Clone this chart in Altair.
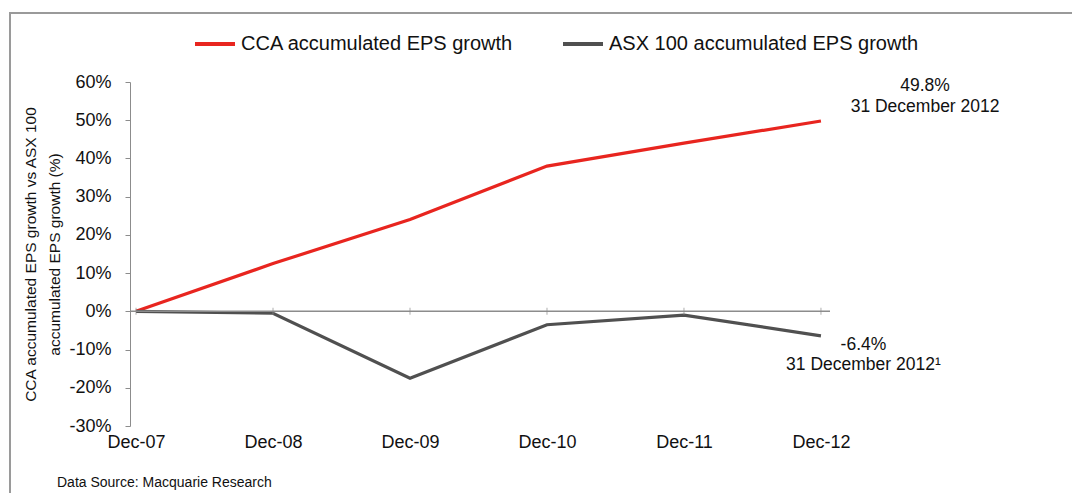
import altair as alt
import pandas as pd

periods = ["Dec-07", "Dec-08", "Dec-09", "Dec-10", "Dec-11", "Dec-12"]
cca = [0.0, 12.5, 24.0, 38.0, 44.0, 49.8]
asx = [0.0, -0.5, -17.5, -3.5, -1.0, -6.4]
series_names = ["CCA accumulated EPS growth", "ASX 100 accumulated EPS growth"]
series_colors = ["#e8251f", "#505050"]
y_ticks = [-30, -20, -10, 0, 10, 20, 30, 40, 50, 60]
source_text = "Data Source: Macquarie Research"

rows = []
for i, p in enumerate(periods):
    rows.append({"idx": i, "period": p, "series": series_names[0], "value": cca[i]})
    rows.append({"idx": i, "period": p, "series": series_names[1], "value": asx[i]})
df = pd.DataFrame(rows)

ann = pd.DataFrame({
    "x": [5.76, 5.76, 5.31, 5.31],
    "y": [58.9, 53.4, -8.8, -14.1],
    "text": ["49.8%", "31 December 2012", "-6.4%", "31 December 2012\u00b9"],
})

FONT = "Liberation Sans"
W, H = 700, 344
xscale = alt.Scale(domain=[-0.044, 5.066], nice=False, zero=False)
yscale = alt.Scale(domain=[-30, 60], nice=False)

xaxis = alt.Axis(
    values=list(range(len(periods))),
    labelExpr="['Dec-07','Dec-08','Dec-09','Dec-10','Dec-11','Dec-12'][datum.value]",
    domain=False, ticks=False, grid=False, labelFontSize=18, labelFont=FONT,
    labelColor="#111", labelPadding=7, labelOverlap=False, title=None,
)
yaxis = alt.Axis(
    values=y_ticks, labelExpr="datum.value + '%'", grid=False,
    domainColor="#8c8c8c", tickColor="#8c8c8c", tickSize=5, labelPadding=14,
    labelFontSize=18, labelFont=FONT, labelColor="#111", labelOverlap=False,
    titleFont=FONT, titleFontSize=15.5, titleFontWeight="normal", titleColor="#111",
    titlePadding=6, titleLineHeight=24,
    title=["CCA accumulated EPS growth vs ASX 100", "accumulated EPS growth (%)"],
)

frame = alt.Chart(pd.DataFrame({"a": [0]})).mark_rect(
    fill=None, stroke="#9a9a9a", strokeWidth=2, clip=False
).encode(
    x=alt.value(-120), x2=alt.value(1080), y=alt.value(-69), y2=alt.value(500)
)

lines = alt.Chart(df).mark_line(strokeWidth=3.2).encode(
    x=alt.X("idx:Q", scale=xscale, axis=xaxis),
    y=alt.Y("value:Q", scale=yscale, axis=yaxis),
    color=alt.Color(
        "series:N",
        scale=alt.Scale(domain=series_names, range=series_colors),
        legend=alt.Legend(
            title=None, orient="none", legendX=63, legendY=-60, direction="horizontal",
            symbolType="stroke", symbolSize=1600, symbolStrokeWidth=4,
            labelFontSize=20, labelFont=FONT, labelColor="#111", labelOffset=4,
            columnPadding=41, labelLimit=400,
        ),
    ),
    order="idx:Q",
)

zero = alt.Chart(pd.DataFrame({"v": [0]})).mark_rule(color="#8c8c8c", strokeWidth=1.5).encode(
    y=alt.Y("v:Q", scale=yscale, axis=yaxis), x=alt.value(0), x2=alt.value(W)
)

ticks = alt.Chart(pd.DataFrame({"idx": list(range(len(periods))), "v": [0] * len(periods)})).mark_tick(
    color="#8c8c8c", thickness=1, size=7, orient="vertical"
).encode(
    x=alt.X("idx:Q", scale=xscale, axis=xaxis), y=alt.Y("v:Q", scale=yscale, axis=yaxis)
)

labels = alt.Chart(ann).mark_text(font=FONT, fontSize=17.5, color="#111", align="center").encode(
    x=alt.X("x:Q", scale=xscale, axis=xaxis), y=alt.Y("y:Q", scale=yscale, axis=yaxis), text="text:N"
)

source = alt.Chart(pd.DataFrame({"t": [source_text]})).mark_text(
    font=FONT, fontSize=14, color="#111", align="left", baseline="middle", clip=False
).encode(x=alt.value(-73), y=alt.value(401), text="t:N")

chart = alt.layer(lines, frame, zero, ticks, labels, source).properties(
    width=W, height=H,
    background="white",
    autosize=alt.AutoSizeParams(type="none"),
    padding={"left": 122, "top": 74, "right": 242, "bottom": 67},
).configure_view(stroke=None).configure_axis(labelOverlap=False)

chart.save("out.html", embed_options={"renderer": "svg", "actions": False})
